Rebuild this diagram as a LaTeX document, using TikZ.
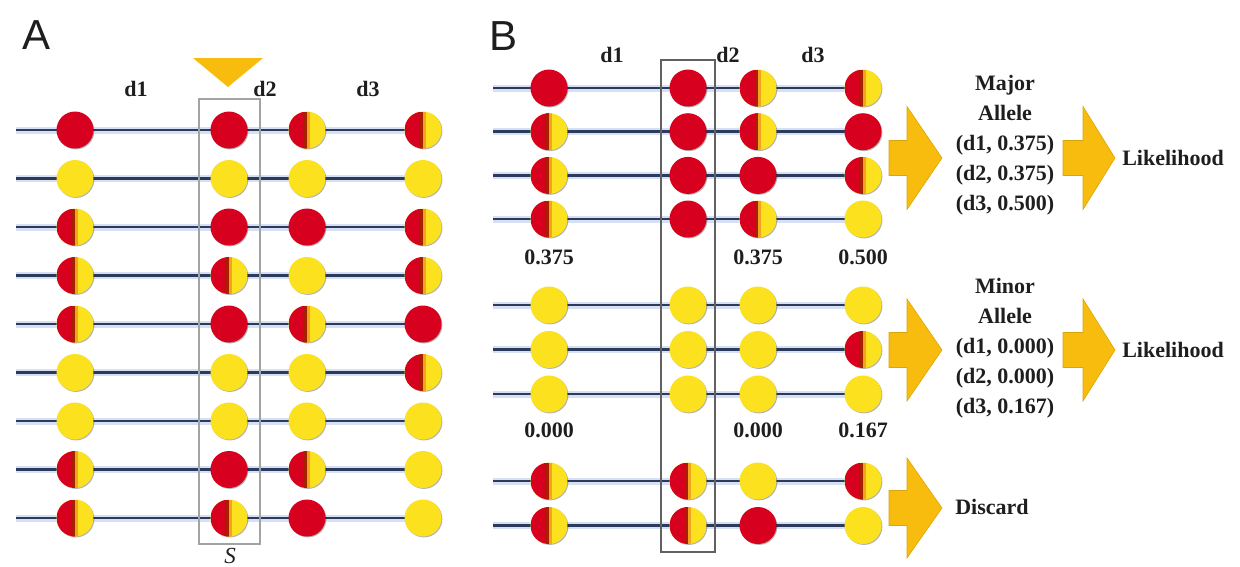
\documentclass[tikz,border=0pt]{standalone}
\usepackage{fontspec}
\setmainfont{Liberation Serif}
\newfontfamily\panelsans{Liberation Sans}
\usetikzlibrary{shadows}
\pgfdeclarelayer{bg}
\pgfsetlayers{bg,main}

\definecolor{alRed}{HTML}{D8001F}
\definecolor{alYel}{HTML}{FBE11E}
\definecolor{alDark}{HTML}{A52100}
\definecolor{alOrg}{HTML}{F5A21E}
\definecolor{gold}{HTML}{F8BC0E}
\definecolor{wireNavy}{HTML}{2C3A5E}
\definecolor{wireHalo}{HTML}{D6E0F2}
\definecolor{ink}{HTML}{1E1E1E}

\tikzset{
  dot/.style={circle, inner sep=0pt, minimum size=37pt, draw=none,
    drop shadow={shadow xshift=0.9pt, shadow yshift=-0.9pt, opacity=0.3, fill=black}},
  dotR/.style={dot, fill=alRed},
  dotY/.style={dot, fill=alYel},
  dotH/.style={dot, fill=alYel, path picture={
      \fill[alRed] (path picture bounding box.south west) rectangle (path picture bounding box.north);
      \fill[alDark] ([xshift=-3.5pt]path picture bounding box.south) rectangle (path picture bounding box.north);
      \fill[alOrg] (path picture bounding box.south) rectangle ([xshift=3pt]path picture bounding box.north);
    }},
  wire/.style={draw=wireNavy, line width=2.8pt,
    preaction={draw=wireHalo, line width=7pt}},
  lab/.style={font=\fontsize{22}{30}\selectfont\bfseries, text=ink, inner sep=0pt},
  panel/.style={font=\panelsans\fontsize{42}{42}\selectfont, text=ink, inner sep=0pt},
  blockarrow/.style={fill=gold, draw=gold!88!black, line width=0.6pt, line join=miter}
}

% one SNP circle: name, x, y, kind (R, Y or H)
\newcommand\placeSNP[4]{\node[dot#4] (#1) at (#2,#3) {};}
% block arrow: tail x, head base x, tip x, centre y, head half height
\newcommand\goldarrow[5]{%
  \path[blockarrow] (#1,#4-17.5) -- (#2,#4-17.5) -- (#2,#4-#5) -- (#3,#4)
    -- (#2,#4+#5) -- (#2,#4+17.5) -- (#1,#4+17.5) -- cycle;}

\begin{document}
\begin{tikzpicture}[x=1pt,y=-1pt]
\useasboundingbox (0,0) rectangle (1240,566);

% ---------------- panel A ----------------
\node[panel] (pA) at (37,35) {A};
\fill[gold] (193,58) -- (263,58) -- (228,87) -- cycle;
\node[lab] (ad1) at (136,89) {d1};
\node[lab] (ad2) at (265,89) {d2};
\node[lab] (ad3) at (368,89) {d3};

\foreach \r/\types in {1/{R,R,H,H},2/{Y,Y,Y,Y},3/{H,R,R,H},4/{H,H,Y,H},5/{H,R,H,R},
                       6/{Y,Y,Y,H},7/{Y,Y,Y,Y},8/{H,R,H,Y},9/{H,H,R,Y}}{
  \pgfmathsetmacro\yy{130+48.5*(\r-1)}
  \foreach \t [count=\c] in \types {
    \pgfmathsetmacro\xx{{75,229,307,423}[\c-1]}
    \edef\tmp{\noexpand\placeSNP{a-\r-\c}{\xx}{\yy}{\t}}\tmp
  }
  \coordinate (a-\r-s) at (16,\yy);
  \begin{pgfonlayer}{bg}
    \draw[wire] (a-\r-s) -- (a-\r-4.center);
  \end{pgfonlayer}
}
\node[draw=black!36, line width=2pt, minimum width=61pt, minimum height=445pt, inner sep=0pt]
  (boxA) at (229.5,321.5) {};
\node[font=\fontsize{23}{23}\selectfont\itshape, text=ink, inner sep=0pt, anchor=north]
  (selS) at (230,548) {S};

% ---------------- panel B ----------------
\node[panel] (pB) at (504,36) {B};
\node[lab] (bd1) at (612,55) {d1};
\node[lab] (bd2) at (728,55) {d2};
\node[lab] (bd3) at (813,55) {d3};

\foreach \r/\yy/\types in {1/88/{R,R,H,H},2/131.7/{H,R,H,R},3/175.4/{H,R,R,H},4/219/{H,R,H,Y},
                           5/305/{Y,Y,Y,Y},6/349.5/{Y,Y,Y,H},7/394/{Y,Y,Y,Y},
                           8/481/{H,H,Y,H},9/525.5/{H,H,R,Y}}{
  \foreach \t [count=\c] in \types {
    \pgfmathsetmacro\xx{{549,688,758,863}[\c-1]}
    \edef\tmp{\noexpand\placeSNP{b-\r-\c}{\xx}{\yy}{\t}}\tmp
  }
  \coordinate (b-\r-s) at (493,\yy);
  \begin{pgfonlayer}{bg}
    \draw[wire] (b-\r-s) -- (b-\r-4.center);
  \end{pgfonlayer}
}
\node[draw=black!62, line width=2.2pt, minimum width=54pt, minimum height=492pt, inner sep=0pt]
  (boxB) at (688,306) {};

\node[lab] (f11) at (549,257) {0.375};
\node[lab] (f13) at (758,257) {0.375};
\node[lab] (f14) at (863,257) {0.500};
\node[lab] (f21) at (549,430) {0.000};
\node[lab] (f23) at (758,430) {0.000};
\node[lab] (f24) at (863,430) {0.167};

% outcomes
\node[lab, align=center] (major) at (1005,145)
  {Major\\Allele\\(d1, 0.375)\\(d2, 0.375)\\(d3, 0.500)};
\node[lab] (like1) at (1173,158) {Likelihood};
\node[lab, align=center] (minor) at (1005,348.5)
  {Minor\\Allele\\(d1, 0.000)\\(d2, 0.000)\\(d3, 0.167)};
\node[lab] (like2) at (1173,350) {Likelihood};
\node[lab] (disc) at (992,507) {Discard};

\goldarrow{889}{907}{942}{158}{51.5}
\goldarrow{1063}{1083}{1115}{158}{51.5}
\goldarrow{889}{907}{942}{350}{51}
\goldarrow{1063}{1083}{1115}{350}{51}
\goldarrow{889}{907}{942}{508}{50}
\end{tikzpicture}
\end{document}
